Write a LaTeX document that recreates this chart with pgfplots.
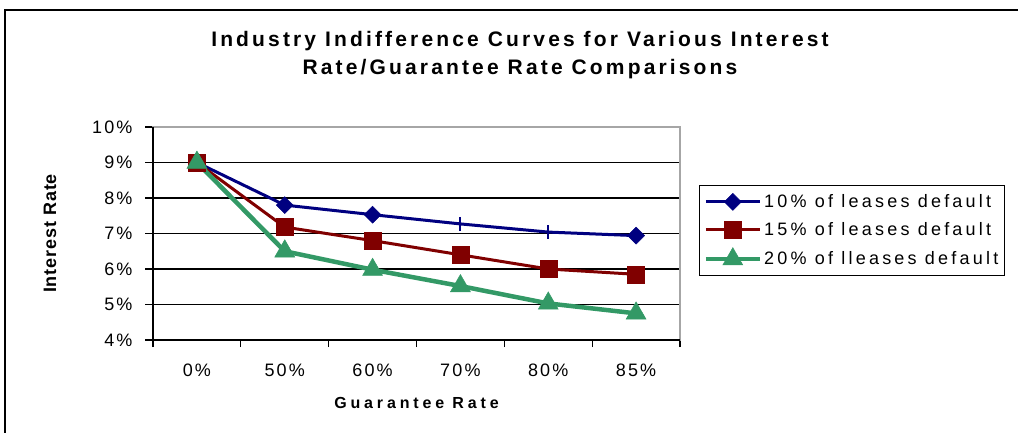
\documentclass[border=0pt]{standalone}
\usepackage{pgfplots}
\pgfplotsset{compat=1.18}
\usepackage{fontspec}
\setmainfont{Liberation Sans}
\newfontfamily\tickfont[LetterSpace=12]{Liberation Sans}
\newfontfamily\legfont[LetterSpace=18]{Liberation Sans}
\newfontfamily\titlefont[LetterSpace=15]{Liberation Sans}
\newfontfamily\xlabfont[LetterSpace=24]{Liberation Sans}
\newfontfamily\ylabfont[LetterSpace=5]{Liberation Sans}
\definecolor{sblue}{HTML}{000080}
\definecolor{sred}{HTML}{800000}
\definecolor{sgreen}{HTML}{339966}
\begin{document}
\begin{tikzpicture}[x=1pt,y=1pt]
\useasboundingbox (0,0) rectangle (1018,432);
\clip (0,0) rectangle (1018,432);
\draw[line width=1.6pt] (5,-20) -- (5,422) -- (1040,422);
\node[font=\titlefont\bfseries\fontsize{21}{27.6}\selectfont, align=center] at (520,377) {Industry Indifference Curves for Various Interest\\Rate/Guarantee Rate Comparisons};
\begin{axis}[
  at={(153pt,92pt)}, anchor=south west,
  scale only axis, width=527pt, height=213pt,
  xmin=-0.5, xmax=5.5, ymin=4, ymax=10,
  xtick={0,...,5},
  xticklabels={0\%,50\%,60\%,70\%,80\%,85\%},
  minor xtick={-0.5,0.5,...,5.5},
  ytick={4,...,10},
  yticklabels={4\%,5\%,6\%,7\%,8\%,9\%,10\%},
  tick align=outside,
  major tick length=8pt, minor tick length=7pt,
  x tick style={draw=none},
  minor x tick style={draw=black, line width=1.2pt},
  y tick style={draw=black, line width=1.2pt},
  xtick pos=bottom, ytick pos=left,
  ymajorgrids, grid style={black, line width=1.3pt},
  axis line style={draw=gray!70, line width=1.2pt},
  ticklabel style={font=\tickfont\fontsize{18}{20}\selectfont},
  yticklabel style={anchor=east, xshift=-9pt},
  xticklabel style={anchor=north, yshift=-12pt},
  xlabel={\xlabfont\bfseries\fontsize{16}{18}\selectfont Guarantee Rate},
  xlabel style={at={(axis description cs:0.5,0)}, anchor=center, yshift=-63pt},
  ylabel={\ylabfont\bfseries\fontsize{18}{20}\selectfont Interest Rate},
  ylabel style={at={(axis description cs:0,0.5)}, anchor=center, xshift=0pt, yshift=103pt},
  legend style={at={(axis description cs:1.036,0.7277)}, anchor=north west,
    draw=black, line width=1.2pt, font=\legfont\fontsize{18}{20}\selectfont,
    row sep=9pt, inner xsep=4pt, inner ysep=7pt, cells={anchor=west}},
  legend image code/.code={\draw[mark repeat=2,mark phase=2,#1] plot coordinates {(0pt,0pt)(27pt,0pt)(54pt,0pt)};},
  clip=false,
]
\draw[black, line width=1.3pt] (rel axis cs:0,1) -- (rel axis cs:0,0) -- (rel axis cs:1,0);
\addplot[sblue, line width=3pt, forget plot]
  coordinates {(0,9.0) (1,7.80) (2,7.53) (3,7.27) (4,7.04) (5,6.94)};
\addplot[sblue, only marks, mark=square*, mark size=6, mark options={rotate=45, solid, fill=sblue, line width=0.5pt}, forget plot]
  coordinates {(0,9.0) (1,7.80) (2,7.53) (5,6.94)};
\addplot[sblue, line width=2pt, only marks, mark=|, mark size=7, forget plot]
  coordinates {(3,7.27) (4,7.04)};
\addlegendimage{sblue, line width=3pt, mark=square*, mark size=6, mark options={rotate=45, solid, fill=sblue, line width=0.5pt}}
\addlegendentry{10\% of leases default}
\addplot[sred, line width=3pt, mark=square*, mark size=8.5, mark options={solid, fill=sred, line width=0.5pt}]
  coordinates {(0,9.0) (1,7.18) (2,6.80) (3,6.40) (4,6.00) (5,5.85)};
\addlegendentry{15\% of leases default}
\addplot[sgreen, line width=4.5pt, mark=triangle*, mark size=11.5, mark options={solid, fill=sgreen, line width=0.5pt}]
  coordinates {(0,9.0) (1,6.50) (2,5.98) (3,5.52) (4,5.03) (5,4.75)};
\addlegendentry{20\% of lleases default}
\end{axis}
\end{tikzpicture}
\end{document}
